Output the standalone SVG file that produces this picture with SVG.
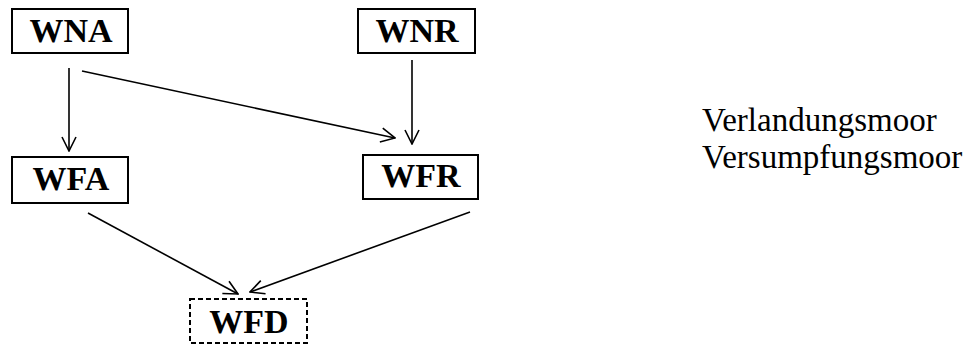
<svg xmlns="http://www.w3.org/2000/svg" width="975" height="346" viewBox="0 0 975 346">
  <style>
    .box { fill: #fff; stroke: #000; stroke-width: 2; }
    .dash { stroke-dasharray: 5 3; }
    .lbl { font-family: "Liberation Serif", "Times New Roman", serif; font-weight: bold; font-size: 34px; text-anchor: middle; fill: #000; }
    .note { font-family: "Liberation Serif", "Times New Roman", serif; font-size: 33px; fill: #000; }
    .edge { fill: none; stroke: #000; stroke-width: 1.6; marker-end: url(#vhead); }
  </style>
  <defs>
    <marker id="vhead" viewBox="0 0 16 16" refX="15" refY="8" markerWidth="16" markerHeight="16" markerUnits="userSpaceOnUse" orient="auto">
      <path d="M1,1 L15,8 L1,15" fill="none" stroke="#000" stroke-width="1.6"/>
    </marker>
  </defs>
  <rect width="975" height="346" fill="#fff"/>

  <g id="connectors">
    <line class="edge" x1="69" y1="68" x2="69" y2="151"/>
    <line class="edge" x1="82" y1="71" x2="395" y2="138"/>
    <line class="edge" x1="412" y1="60" x2="412" y2="144"/>
    <line class="edge" x1="88" y1="213" x2="238" y2="294"/>
    <line class="edge" x1="470" y1="212" x2="250" y2="292"/>
  </g>

  <g id="WNA">
    <rect class="box" x="12" y="9" width="116" height="44"/>
    <text class="lbl" x="71" y="42">WNA</text>
  </g>
  <g id="WNR">
    <rect class="box" x="358" y="9" width="117" height="44"/>
    <text class="lbl" x="417" y="42">WNR</text>
  </g>
  <g id="WFA">
    <rect class="box" x="12" y="157" width="116" height="46"/>
    <text class="lbl" x="71" y="190">WFA</text>
  </g>
  <g id="WFR">
    <rect class="box" x="363" y="155" width="115" height="44"/>
    <text class="lbl" x="421" y="187">WFR</text>
  </g>
  <g id="WFD">
    <rect class="box dash" x="190" y="299" width="117" height="44"/>
    <text class="lbl" x="249" y="333">WFD</text>
  </g>

  <g id="legend">
    <text class="note" x="702" y="131">Verlandungsmoor</text>
    <text class="note" x="702" y="168">Versumpfungsmoor</text>
  </g>
</svg>
